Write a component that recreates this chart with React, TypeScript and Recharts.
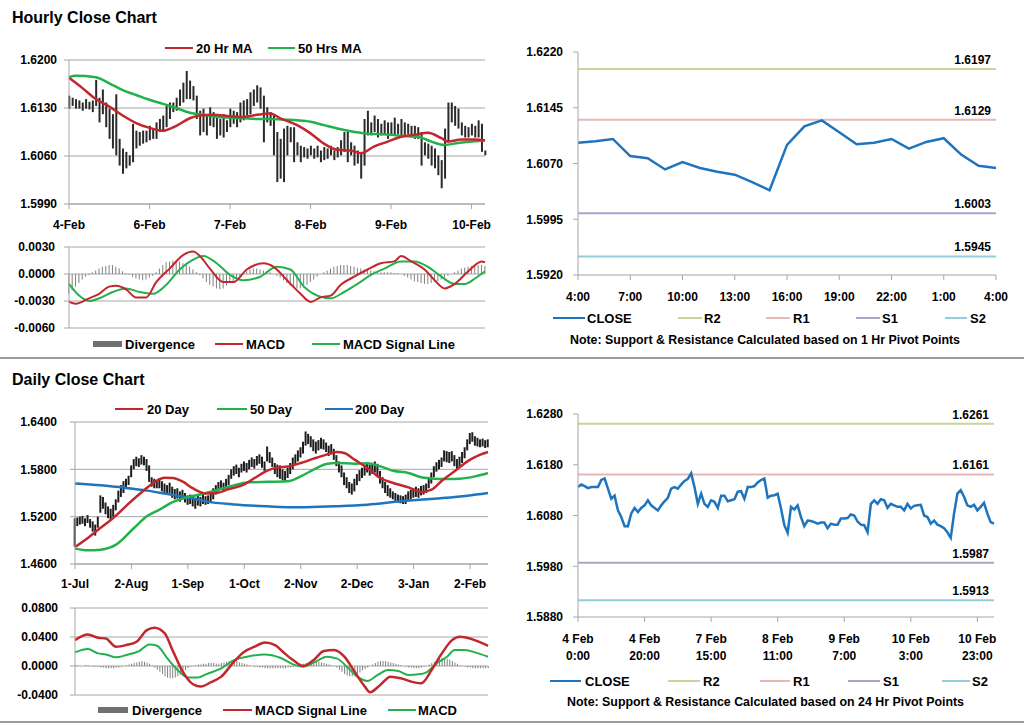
import React from 'react';
import { ComposedChart, LineChart, Line, Bar, XAxis, YAxis, CartesianGrid, ReferenceLine } from 'recharts';

const FONT = '"Liberation Sans", Arial, Helvetica, sans-serif';
const GRID = '#a6a6a6';
const RED = '#c1272d';
const GREEN = '#23b14d';
const BLUE = '#1f75bd';
const HIST = '#808080';
const R2C = '#c4d79b';
const R1C = '#e6b9b8';
const S1C = '#b3a2c7';
const S2C = '#93cddd';

// ---------------- Hourly close chart ----------------
const hourlyDates = ['4-Feb', '6-Feb', '7-Feb', '8-Feb', '9-Feb', '10-Feb'];
const hourlyDateIdx = [0, 24, 48, 72, 96, 120];

const hourlyHigh = [
  1.6148, 1.6145, 1.6143, 1.6141, 1.6138, 1.6143, 1.6139, 1.6141, 1.6171, 1.6145,
  1.6157, 1.6138, 1.6129, 1.6121, 1.615, 1.6085, 1.6071, 1.6066, 1.6061, 1.6107,
  1.6097, 1.6095, 1.6097, 1.6097, 1.6104, 1.61, 1.6109, 1.6114, 1.6119, 1.6133,
  1.6138, 1.6138, 1.6145, 1.6157, 1.6167, 1.6184, 1.617, 1.6162, 1.6148, 1.6126,
  1.6129, 1.6121, 1.6131, 1.6124, 1.6119, 1.6114, 1.6121, 1.6112, 1.6129, 1.6126,
  1.6124, 1.6138, 1.6141, 1.6143, 1.6153, 1.6157, 1.6163, 1.616, 1.6148, 1.6131,
  1.6124, 1.6119, 1.6095, 1.6085, 1.61, 1.6104, 1.6102, 1.6102, 1.608, 1.6075,
  1.6073, 1.6071, 1.6075, 1.6071, 1.6075, 1.6068, 1.6073, 1.6071, 1.6075, 1.6068,
  1.6073, 1.6083, 1.6095, 1.6095, 1.608, 1.6075, 1.6068, 1.6066, 1.6114, 1.6126,
  1.6109, 1.6119, 1.6114, 1.6107, 1.6112, 1.6109, 1.6109, 1.6116, 1.6107, 1.6114,
  1.6109, 1.6107, 1.6104, 1.6104, 1.6102, 1.6095, 1.608, 1.6078, 1.6075, 1.6071,
  1.6061, 1.6054, 1.61, 1.6138, 1.6138, 1.6133, 1.6129, 1.6109, 1.6104, 1.6102,
  1.6107, 1.6104, 1.6112, 1.6107, 1.6068,
];
const hourlyLow = [
  1.6129, 1.6133, 1.6129, 1.6129, 1.6126, 1.6129, 1.6128, 1.6124, 1.6133, 1.6109,
  1.6121, 1.6102, 1.6085, 1.6071, 1.6061, 1.6046, 1.6034, 1.6042, 1.6046, 1.6051,
  1.6071, 1.6075, 1.6078, 1.608, 1.6083, 1.6085, 1.6085, 1.6095, 1.6095, 1.6102,
  1.6114, 1.6124, 1.6126, 1.6133, 1.6138, 1.6143, 1.6143, 1.6141, 1.6114, 1.609,
  1.6095, 1.609, 1.6104, 1.6102, 1.6085, 1.609, 1.6087, 1.6095, 1.6102, 1.6107,
  1.6102, 1.6109, 1.6112, 1.6119, 1.6121, 1.6133, 1.6138, 1.6129, 1.608, 1.6109,
  1.6104, 1.6061, 1.6022, 1.6027, 1.6022, 1.6061, 1.608, 1.6051, 1.6061, 1.6051,
  1.6058, 1.6056, 1.6061, 1.6056, 1.6058, 1.6051, 1.6054, 1.6056, 1.6061, 1.6054,
  1.6058, 1.6061, 1.6066, 1.6051, 1.6061, 1.6046, 1.6049, 1.6027, 1.6046, 1.609,
  1.609, 1.6095, 1.6087, 1.609, 1.6092, 1.6085, 1.6092, 1.609, 1.6092, 1.6087,
  1.609, 1.6092, 1.6092, 1.6085, 1.6085, 1.6046, 1.6061, 1.6056, 1.6046, 1.6042,
  1.6032, 1.6013, 1.6027, 1.608, 1.6109, 1.6104, 1.61, 1.609, 1.6087, 1.6087,
  1.609, 1.6087, 1.6087, 1.6066, 1.6061,
];
const hourlyMA20: [number, number][] = [
  [0, 1.6174], [4, 1.6159], [8, 1.6143], [12, 1.6132], [16, 1.6119], [20, 1.6108], [24, 1.6101],
  [28, 1.6097], [32, 1.6104], [36, 1.6115], [39, 1.6119], [43, 1.6120], [48, 1.6118], [52, 1.6117],
  [56, 1.6120], [60, 1.6122], [63, 1.6115], [68, 1.6105], [72, 1.6093], [76, 1.6078], [80, 1.6069],
  [84, 1.6068], [87, 1.6064], [91, 1.6074], [95, 1.6081], [99, 1.6088], [103, 1.6091], [107, 1.6094],
  [111, 1.6086], [113, 1.6081], [117, 1.6084], [121, 1.6084], [124, 1.6083],
];
const hourlyMA50: [number, number][] = [
  [0, 1.6175], [2, 1.6177], [8, 1.6175], [12, 1.6166], [16, 1.6156], [20, 1.6149], [24, 1.6142],
  [28, 1.6136], [32, 1.6130], [36, 1.6123], [40, 1.6120], [44, 1.6117], [48, 1.6116], [52, 1.6115],
  [56, 1.6114], [60, 1.6114], [64, 1.6113], [68, 1.6112], [72, 1.6110], [76, 1.6105], [80, 1.6100],
  [84, 1.6096], [88, 1.6093], [92, 1.6092], [96, 1.6091], [100, 1.6089], [104, 1.6088], [108, 1.6081],
  [112, 1.6076], [116, 1.6079], [120, 1.6081], [124, 1.6083],
];
const hourlyMACD: [number, number][] = [
  [0, -0.0031], [2, -0.0033], [6, -0.0027], [9, -0.0022], [12, -0.0014], [14, -0.0013], [17, -0.0017],
  [20, -0.0026], [23, -0.0026], [26, -0.0009], [30, 0.0006], [34, 0.0021], [37, 0.0025], [39, 0.002],
  [42, 0.0006], [46, -0.0009], [49, -0.0009], [53, 0.0005], [58, 0.0012], [61, 0.0008], [65, -0.0007],
  [69, -0.0022], [72, -0.0031], [75, -0.0026], [78, -0.0024], [81, -0.0012], [85, -0.0003], [89, 0.0005],
  [93, 0.0012], [97, 0.0014], [99, 0.002], [102, 0.0014], [106, 0.0005], [109, -0.0007], [112, -0.0016],
  [115, -0.0011], [119, 0.0003], [123, 0.0014], [124, 0.0013],
];
const hourlySignal: [number, number][] = [
  [0, -0.0011], [3, -0.0024], [6, -0.003], [9, -0.0027], [13, -0.002], [17, -0.0016], [21, -0.002],
  [25, -0.0022], [29, -0.0012], [33, 0.0005], [37, 0.0016], [40, 0.002], [44, 0.0012], [48, -0.0001],
  [52, -0.0007], [57, -0.0003], [62, 0.0008], [66, 0.0005], [70, -0.0014], [74, -0.0024], [78, -0.0027],
  [82, -0.002], [86, -0.0011], [90, -0.0001], [94, 0.0006], [99, 0.0014], [103, 0.0014], [107, 0.0008],
  [111, -0.0003], [115, -0.0011], [118, -0.0011], [121, -0.0005], [124, 0.0003],
];
const hourlyDivergence = [
  -0.0022, -0.0018, -0.0014, -0.001, -0.0006, -0.0003, -0.0001, 0.0002, 0.0004, 0.0006,
  0.0008, 0.0009, 0.001, 0.001, 0.0008, 0.0006, 0.0003, 0.0001, -0.0001, -0.0003,
  -0.0005, -0.0006, -0.0007, -0.0006, -0.0004, -0.0002, 0.0002, 0.0006, 0.001, 0.0013,
  0.0014, 0.0015, 0.0015, 0.0014, 0.0012, 0.001, 0.0008, 0.0005, 0.0002, -0.0001,
  -0.0005, -0.0009, -0.0012, -0.0014, -0.0016, -0.0017, -0.0016, -0.0013, -0.001, -0.0008,
  -0.0005, -0.0002, 0.0001, 0.0003, 0.0005, 0.0006, 0.0006, 0.0005, 0.0004, 0.0003,
  0.0002, 0.0, -0.0002, -0.0004, -0.0007, -0.001, -0.0013, -0.0015, -0.0016, -0.0016,
  -0.0015, -0.0012, -0.0009, -0.0006, -0.0003, 0.0, 0.0002, 0.0004, 0.0006, 0.0008,
  0.0009, 0.001, 0.001, 0.001, 0.0009, 0.0008, 0.0007, 0.0006, 0.0005, 0.0004,
  0.0004, 0.0003, 0.0003, 0.0002, 0.0002, 0.0002, 0.0002, 0.0001, 0.0001, 0.0,
  -0.0002, -0.0004, -0.0006, -0.0008, -0.0009, -0.001, -0.0011, -0.0011, -0.001, -0.0009,
  -0.0008, -0.0006, -0.0004, -0.0002, 0.0, 0.0002, 0.0004, 0.0006, 0.0007, 0.0008,
  0.0009, 0.001, 0.001, 0.001, 0.0009,
];

// ---------------- Hourly pivot chart ----------------
const hourLabels = ['4:00', '5:00', '6:00', '7:00', '8:00', '9:00', '10:00', '11:00', '12:00', '13:00', '14:00', '15:00',
  '16:00', '17:00', '18:00', '19:00', '20:00', '21:00', '22:00', '23:00', '0:00', '1:00', '2:00', '3:00', '4:00'];
const hourlyClose = [1.6098, 1.61, 1.6103, 1.608, 1.6077, 1.6062, 1.6072, 1.6064, 1.6059, 1.6055, 1.6045, 1.6034,
  1.6095, 1.612, 1.6128, 1.6112, 1.6096, 1.6098, 1.6103, 1.609, 1.6099, 1.6104, 1.6082, 1.6067, 1.6064];
const hourlyPivots = { R2: 1.6197, R1: 1.6129, S1: 1.6003, S2: 1.5945 };

// ---------------- Daily close chart ----------------
const dailyMonths = ['1-Jul', '2-Aug', '1-Sep', '1-Oct', '2-Nov', '2-Dec', '3-Jan', '2-Feb'];
const dailyMonthIdx = [0, 22, 44, 66, 88, 110, 132, 154];
const dailyHigh = [
  1.518, 1.519, 1.52, 1.521, 1.518, 1.522, 1.517, 1.514, 1.51, 1.52,
  1.547, 1.545, 1.538, 1.533, 1.53, 1.535, 1.542, 1.553, 1.56, 1.565,
  1.568, 1.572, 1.585, 1.593, 1.596, 1.594, 1.598, 1.596, 1.593, 1.585,
  1.57, 1.568, 1.566, 1.569, 1.565, 1.562, 1.56, 1.563, 1.558, 1.555,
  1.556, 1.552, 1.554, 1.55, 1.547, 1.548, 1.546, 1.544, 1.547, 1.545,
  1.548, 1.546, 1.547, 1.55, 1.556, 1.56, 1.564, 1.566, 1.563, 1.568,
  1.573, 1.58, 1.584, 1.586, 1.582, 1.587, 1.59, 1.588, 1.592, 1.595,
  1.593, 1.597, 1.599, 1.596, 1.59, 1.609, 1.602, 1.595, 1.588, 1.586,
  1.585, 1.58, 1.578, 1.582, 1.588, 1.595, 1.599, 1.604, 1.608, 1.615,
  1.628, 1.625, 1.622, 1.618, 1.615, 1.617, 1.62, 1.618, 1.614, 1.61,
  1.612, 1.606, 1.598, 1.59, 1.585, 1.576, 1.57, 1.564, 1.562, 1.568,
  1.574, 1.579, 1.582, 1.586, 1.588, 1.586, 1.588, 1.59, 1.587, 1.578,
  1.57, 1.564, 1.56, 1.556, 1.552, 1.55, 1.548, 1.547, 1.546, 1.548,
  1.552, 1.554, 1.556, 1.558, 1.556, 1.559, 1.56, 1.562, 1.568, 1.576,
  1.584, 1.589, 1.592, 1.595, 1.604, 1.603, 1.602, 1.603, 1.598, 1.593,
  1.596, 1.602, 1.608, 1.618, 1.626, 1.627, 1.622, 1.62, 1.618, 1.619, 1.617, 1.618,
];
const dailyLow = [
  1.482, 1.508, 1.51, 1.511, 1.508, 1.512, 1.506, 1.501, 1.496, 1.506,
  1.525, 1.53, 1.523, 1.518, 1.516, 1.52, 1.528, 1.538, 1.545, 1.55,
  1.555, 1.56, 1.57, 1.58, 1.584, 1.583, 1.586, 1.585, 1.578, 1.564,
  1.558, 1.556, 1.556, 1.556, 1.552, 1.55, 1.549, 1.55, 1.544, 1.542,
  1.543, 1.539, 1.542, 1.538, 1.535, 1.536, 1.533, 1.53, 1.534, 1.533,
  1.536, 1.535, 1.536, 1.538, 1.542, 1.548, 1.552, 1.554, 1.553, 1.556,
  1.56, 1.568, 1.572, 1.574, 1.57, 1.576, 1.578, 1.576, 1.58, 1.583,
  1.581, 1.585, 1.587, 1.582, 1.578, 1.59, 1.588, 1.583, 1.574, 1.57,
  1.568, 1.566, 1.565, 1.569, 1.574, 1.58, 1.586, 1.59, 1.595, 1.6,
  1.61, 1.612, 1.608, 1.603, 1.6, 1.604, 1.606, 1.605, 1.602, 1.597,
  1.599, 1.592, 1.584, 1.576, 1.57, 1.56, 1.556, 1.55, 1.548, 1.552,
  1.56, 1.565, 1.569, 1.572, 1.576, 1.572, 1.574, 1.576, 1.572, 1.562,
  1.556, 1.55, 1.546, 1.544, 1.542, 1.54, 1.538, 1.537, 1.536, 1.536,
  1.54, 1.542, 1.544, 1.545, 1.544, 1.547, 1.548, 1.55, 1.556, 1.562,
  1.57, 1.577, 1.58, 1.583, 1.59, 1.589, 1.588, 1.59, 1.584, 1.58,
  1.582, 1.588, 1.594, 1.604, 1.612, 1.615, 1.61, 1.609, 1.608, 1.609, 1.607, 1.608,
];
const daily20: [number, number][] = [
  [0, 1.4815], [5, 1.493], [10, 1.506], [15, 1.5185], [21, 1.5368], [27, 1.5537], [31, 1.564], [35, 1.5694],
  [38, 1.569], [42, 1.5643], [46, 1.5558], [51, 1.5495], [55, 1.55], [60, 1.555], [66, 1.561], [70, 1.569],
  [75, 1.5783], [79, 1.5825], [83, 1.5835], [88, 1.588], [93, 1.5935], [98, 1.5986], [102, 1.602], [105, 1.6007],
  [109, 1.5923], [114, 1.5817], [119, 1.569], [124, 1.5627], [130, 1.5572], [135, 1.5513], [139, 1.5542],
  [143, 1.5656], [148, 1.5775], [153, 1.5901], [158, 1.5986], [161, 1.602],
];
const daily50: [number, number][] = [
  [0, 1.4795], [5, 1.4773], [10, 1.4782], [16, 1.4845], [23, 1.5056], [28, 1.5204], [33, 1.529], [38, 1.5383],
  [44, 1.5448], [50, 1.549], [56, 1.5545], [62, 1.5597], [67, 1.5632], [75, 1.5642], [83, 1.5648], [88, 1.5711],
  [93, 1.5796], [98, 1.5868], [102, 1.588], [109, 1.5872], [114, 1.5876], [119, 1.5838], [124, 1.5783],
  [130, 1.5754], [135, 1.5699], [140, 1.5682], [145, 1.5678], [150, 1.5682], [156, 1.5711], [161, 1.5754],
];
const daily200: [number, number][] = [
  [0, 1.562], [10, 1.5597], [20, 1.5563], [28, 1.553], [36, 1.5487], [44, 1.5445], [51, 1.5394], [62, 1.5355],
  [75, 1.5331], [88, 1.5318], [101, 1.5331], [114, 1.5352], [127, 1.5394], [140, 1.5428], [153, 1.5466], [161, 1.55],
];
const dailySignal: [number, number][] = [
  [0, 0.0357], [5, 0.0435], [9, 0.0389], [12, 0.038], [16, 0.0266], [20, 0.0289], [24, 0.0334], [28, 0.0495],
  [31, 0.0527], [35, 0.0449], [38, 0.022], [42, -0.0078], [46, -0.0252], [49, -0.0284], [53, -0.0224],
  [57, -0.0147], [62, 0.006], [66, 0.0197], [70, 0.0266], [74, 0.0325], [78, 0.0289], [81, 0.0197], [85, 0.0082],
  [89, 0.0], [93, 0.0082], [97, 0.0206], [101, 0.022], [105, 0.0128], [109, -0.0078], [113, -0.0284],
  [115, -0.0362], [119, -0.0261], [123, -0.0147], [127, -0.0169], [131, -0.0215], [135, -0.0238],
  [139, -0.0055], [143, 0.0174], [147, 0.0357], [150, 0.0403], [154, 0.038], [158, 0.0325], [161, 0.0279],
];
const dailyMACD: [number, number][] = [
  [0, 0.0188], [5, 0.0234], [9, 0.0174], [12, 0.016], [16, 0.0119], [20, 0.0151], [25, 0.0206], [29, 0.0298],
  [32, 0.0279], [36, 0.0105], [40, -0.0055], [44, -0.016], [48, -0.016], [51, -0.0115], [57, -0.0032],
  [62, 0.0082], [67, 0.0128], [74, 0.016], [80, 0.0114], [85, 0.0023], [89, -0.0009], [95, 0.0082], [98, 0.0128],
  [102, 0.0105], [106, -0.0009], [110, -0.0147], [114, -0.0206], [118, -0.0124], [122, -0.0055], [126, -0.0069],
  [130, -0.0124], [134, -0.0115], [137, -0.0087], [141, 0.0037], [145, 0.0128], [148, 0.022], [152, 0.022],
  [156, 0.0188], [161, 0.0128],
];
const dailyDivergence = [
  0.001, 0.001, 0, 0, 0.001, 0.001, 0, -0.001, -0.001, -0.001,
  -0.002, -0.002, -0.003, -0.003, -0.003, -0.003, -0.002, -0.002, -0.001, 0,
  0.001, 0.002, 0.003, 0.004, 0.005, 0.006, 0.007, 0.006, 0.005, 0.003,
  0.001, -0.002, -0.005, -0.008, -0.011, -0.014, -0.016, -0.017, -0.017, -0.016,
  -0.014, -0.012, -0.009, -0.006, -0.003, -0.001, 0, 0.001, 0.002, 0.002,
  0.003, 0.003, 0.004, 0.004, 0.004, 0.003, 0.003, 0.004, 0.005, 0.006,
  0.007, 0.008, 0.008, 0.007, 0.005, 0.004, 0.003, 0.002, 0.001, 0,
  -0.001, -0.001, -0.002, -0.002, -0.003, -0.003, -0.003, -0.003, -0.003, -0.003,
  -0.003, -0.003, -0.003, -0.002, -0.002, -0.001, 0, 0.001, 0.002, 0.003,
  0.004, 0.005, 0.006, 0.007, 0.007, 0.006, 0.005, 0.004, 0.003, 0.002,
  0.001, 0, -0.002, -0.005, -0.008, -0.011, -0.013, -0.014, -0.014, -0.013,
  -0.011, -0.009, -0.006, -0.004, -0.002, 0, 0.002, 0.004, 0.006, 0.007,
  0.007, 0.007, 0.006, 0.005, 0.004, 0.003, 0.002, 0.001, 0, -0.001,
  -0.002, -0.002, -0.003, -0.003, -0.003, -0.002, -0.001, 0, 0.002, 0.004,
  0.006, 0.008, 0.01, 0.011, 0.011, 0.01, 0.009, 0.007, 0.005, 0.003,
  0.001, 0, -0.001, -0.002, -0.002, -0.003, -0.003, -0.003, -0.003, -0.003, -0.003, -0.003,
];

// ---------------- Daily pivot chart ----------------
const pivotTickIdx = [0, 20, 40, 60, 80, 100, 120];
const pivotTickDay = ['4 Feb', '4 Feb', '7 Feb', '8 Feb', '9 Feb', '10 Feb', '10 Feb'];
const pivotTickTime = ['0:00', '20:00', '15:00', '11:00', '7:00', '3:00', '23:00'];
const dailyPivotClose = [
  1.6136, 1.6141, 1.6138, 1.6134, 1.6136, 1.6136, 1.6136, 1.615, 1.6153, 1.6133,
  1.6113, 1.6119, 1.609, 1.6077, 1.6059, 1.6059, 1.6084, 1.6095, 1.6087, 1.6095,
  1.61, 1.611, 1.61, 1.6095, 1.609, 1.61, 1.6108, 1.6115, 1.6133, 1.6136,
  1.6133, 1.6141, 1.6148, 1.6152, 1.6163, 1.6136, 1.6103, 1.6123, 1.6103, 1.6097,
  1.611, 1.6107, 1.6095, 1.6119, 1.6119, 1.6108, 1.611, 1.6112, 1.6127, 1.6128,
  1.6113, 1.6136, 1.6136, 1.6138, 1.6145, 1.615, 1.6153, 1.6115, 1.6119, 1.612,
  1.6123, 1.6094, 1.6061, 1.6046, 1.6097, 1.6092, 1.61, 1.6077, 1.6059, 1.607,
  1.6069, 1.6067, 1.6064, 1.6066, 1.6066, 1.6055, 1.6064, 1.6062, 1.6062, 1.6074,
  1.6074, 1.6075, 1.6082, 1.608, 1.6068, 1.6062, 1.6061, 1.6047, 1.6103, 1.611,
  1.6103, 1.6112, 1.611, 1.6095, 1.6103, 1.61, 1.6097, 1.6097, 1.609, 1.6103,
  1.6094, 1.6099, 1.61, 1.6101, 1.608, 1.6077, 1.6064, 1.607, 1.6062, 1.6059,
  1.6055, 1.6047, 1.6036, 1.6084, 1.6123, 1.613, 1.6117, 1.61, 1.6097, 1.6101,
  1.609, 1.6097, 1.6105, 1.6084, 1.6067, 1.6064,
];
const dailyPivots = { R2: 1.6261, R1: 1.6161, S1: 1.5987, S2: 1.5913 };

// ---------------- tables ----------------
const hm20 = new Map(hourlyMA20);
const hm50 = new Map(hourlyMA50);
const hmacd = new Map(hourlyMACD);
const hsig = new Map(hourlySignal);
const hourlyTable = hourlyHigh.map((h, i) => ({
  i,
  range: [hourlyLow[i], h],
  ma20: hm20.has(i) ? hm20.get(i) : null,
  ma50: hm50.has(i) ? hm50.get(i) : null,
}));
const hourlyMacdTable = hourlyDivergence.map((d, i) => ({
  i,
  div: d,
  macd: hmacd.has(i) ? hmacd.get(i) : null,
  signal: hsig.has(i) ? hsig.get(i) : null,
}));
const hourlyPivotTable = hourlyClose.map((c, i) => ({ i, close: c }));

const d20 = new Map(daily20);
const d50 = new Map(daily50);
const d200 = new Map(daily200);
const dmacd = new Map(dailyMACD);
const dsig = new Map(dailySignal);
const dailyTable = dailyHigh.map((h, i) => ({
  i,
  range: [dailyLow[i], h],
  ma20: d20.has(i) ? d20.get(i) : null,
  ma50: d50.has(i) ? d50.get(i) : null,
  ma200: d200.has(i) ? d200.get(i) : null,
}));
const dailyMacdTable = dailyDivergence.map((d, i) => ({
  i,
  div: d,
  macd: dmacd.has(i) ? dmacd.get(i) : null,
  signal: dsig.has(i) ? dsig.get(i) : null,
}));
const dailyPivotTable = dailyPivotClose.map((c, i) => ({ i, close: c }));

const tick = { fill: '#000', fontSize: 12, fontWeight: 700, fontFamily: FONT };
const f4 = (v: number) => v.toFixed(4);

const refLabel = (v: number) => ({
  value: v.toFixed(4),
  position: 'insideBottomRight' as const,
  offset: 5,
  fill: '#000',
  fontSize: 12,
  fontWeight: 700,
  fontFamily: FONT,
});

const PivotTick = (props: any) => {
  const { x, y, payload } = props;
  const k = pivotTickIdx.indexOf(payload.value);
  return (
    <text x={x} y={y} textAnchor="middle" fill="#000" fontSize={12} fontWeight={700} fontFamily={FONT}>
      <tspan x={x} dy="0.71em">{pivotTickDay[k]}</tspan>
      <tspan x={x} dy="17">{pivotTickTime[k]}</tspan>
    </text>
  );
};

const abs = (left: number, top: number): React.CSSProperties => ({ position: 'absolute', left, top });

type LegendKind = 'line' | 'box';
const LegendItem = ({ x1, x2, y, color, label, tx, kind = 'line', w = 2 }: {
  x1: number; x2: number; y: number; color: string; label: string; tx: number; kind?: LegendKind; w?: number;
}) => (
  <g>
    {kind === 'line' ? (
      <line x1={x1} x2={x2} y1={y} y2={y} stroke={color} strokeWidth={w} />
    ) : (
      <rect x={x1} y={y - 3} width={x2 - x1} height={6} fill={color} />
    )}
    <text x={tx} y={y} dominantBaseline="central" fontSize={13} fontWeight={700} fontFamily={FONT} fill="#000">
      {label}
    </text>
  </g>
);

export default function App() {
  return (
    <div style={{ position: 'absolute', left: 0, top: 0, width: 1024, height: 724, background: '#fff', overflow: 'hidden' }}>
      {/* Hourly price chart */}
      <div style={abs(0, 0)}>
        <ComposedChart width={500} height={240} data={hourlyTable} margin={{ top: 60, right: 15, bottom: 6, left: 0 }}>
          <CartesianGrid vertical={false} stroke={GRID} />
          <XAxis dataKey="i" type="number" domain={[0, 124]} ticks={hourlyDateIdx} interval={0}
            tickFormatter={(v: number) => hourlyDates[hourlyDateIdx.indexOf(v)]}
            height={30} tickSize={5} tickMargin={11} stroke={GRID} tick={tick} />
          <YAxis type="number" domain={[1.599, 1.62]} ticks={[1.599, 1.606, 1.613, 1.62]} interval={0}
            tickFormatter={f4} width={69} tickSize={5} tickMargin={7} stroke={GRID} tick={tick} />
          <Bar dataKey="range" fill="#2a2a2a" barSize={2} isAnimationActive={false} />
          <Line dataKey="ma50" type="monotone" stroke={GREEN} strokeWidth={2.5} dot={false} connectNulls isAnimationActive={false} />
          <Line dataKey="ma20" type="monotone" stroke={RED} strokeWidth={2.5} dot={false} connectNulls isAnimationActive={false} />
        </ComposedChart>
      </div>

      {/* Hourly MACD */}
      <div style={abs(0, 240)}>
        <ComposedChart width={500} height={106} data={hourlyMacdTable} margin={{ top: 7, right: 15, bottom: 18, left: 0 }}>
          <CartesianGrid vertical={false} stroke={GRID} />
          <XAxis dataKey="i" type="number" domain={[0, 124]} hide />
          <YAxis type="number" domain={[-0.006, 0.003]} ticks={[-0.006, -0.003, 0, 0.003]} interval={0}
            tickFormatter={f4} width={69} tickSize={5} tickMargin={9} stroke={GRID} tick={tick} />
          <Bar dataKey="div" fill={HIST} barSize={1} isAnimationActive={false} />
          <Line dataKey="signal" type="monotone" stroke={GREEN} strokeWidth={2} dot={false} connectNulls isAnimationActive={false} />
          <Line dataKey="macd" type="monotone" stroke={RED} strokeWidth={2} dot={false} connectNulls isAnimationActive={false} />
        </ComposedChart>
      </div>

      {/* Hourly pivot chart */}
      <div style={abs(500, 0)}>
        <LineChart width={524} height={320} data={hourlyPivotTable} margin={{ top: 52, right: 28, bottom: 15, left: 0 }}>
          <XAxis dataKey="i" type="number" domain={[0, 24]} ticks={[0, 3, 6, 9, 12, 15, 18, 21, 24]} interval={0}
            tickFormatter={(v: number) => hourLabels[v]}
            height={30} tickSize={5} tickMargin={12} stroke={GRID} tick={tick} />
          <YAxis type="number" domain={[1.592, 1.622]} ticks={[1.592, 1.5995, 1.607, 1.6145, 1.622]} interval={0}
            tickFormatter={f4} width={78} tickSize={5} tickMargin={10} stroke={GRID} tick={tick} />
          <ReferenceLine y={hourlyPivots.R2} stroke={R2C} strokeWidth={2} label={refLabel(hourlyPivots.R2)} />
          <ReferenceLine y={hourlyPivots.R1} stroke={R1C} strokeWidth={2} label={refLabel(hourlyPivots.R1)} />
          <ReferenceLine y={hourlyPivots.S1} stroke={S1C} strokeWidth={2} label={refLabel(hourlyPivots.S1)} />
          <ReferenceLine y={hourlyPivots.S2} stroke={S2C} strokeWidth={2} label={refLabel(hourlyPivots.S2)} />
          <Line dataKey="close" type="linear" stroke={BLUE} strokeWidth={2.5} dot={false} isAnimationActive={false} />
        </LineChart>
      </div>

      {/* Daily price chart */}
      <div style={abs(0, 360)}>
        <ComposedChart width={500} height={240} data={dailyTable} margin={{ top: 62, right: 12, bottom: 6, left: 0 }}>
          <CartesianGrid vertical={false} stroke={GRID} />
          <XAxis dataKey="i" type="number" domain={[0, 161]} ticks={dailyMonthIdx} interval={0}
            tickFormatter={(v: number) => dailyMonths[dailyMonthIdx.indexOf(v)]}
            height={30} tickSize={5} tickMargin={10} stroke={GRID} tick={tick} />
          <YAxis type="number" domain={[1.46, 1.64]} ticks={[1.46, 1.52, 1.58, 1.64]} interval={0}
            tickFormatter={f4} width={75} tickSize={5} tickMargin={13} stroke={GRID} tick={tick} />
          <Bar dataKey="range" fill="#1e1e1e" barSize={2} isAnimationActive={false} />
          <Line dataKey="ma200" type="monotone" stroke={BLUE} strokeWidth={2.5} dot={false} connectNulls isAnimationActive={false} />
          <Line dataKey="ma50" type="monotone" stroke={GREEN} strokeWidth={2.5} dot={false} connectNulls isAnimationActive={false} />
          <Line dataKey="ma20" type="monotone" stroke={RED} strokeWidth={2.5} dot={false} connectNulls isAnimationActive={false} />
        </ComposedChart>
      </div>

      {/* Daily MACD */}
      <div style={abs(0, 600)}>
        <ComposedChart width={500} height={112} data={dailyMacdTable} margin={{ top: 8, right: 12, bottom: 17, left: 0 }}>
          <CartesianGrid vertical={false} stroke={GRID} />
          <XAxis dataKey="i" type="number" domain={[0, 161]} hide />
          <YAxis type="number" domain={[-0.04, 0.08]} ticks={[-0.04, 0, 0.04, 0.08]} interval={0}
            tickFormatter={f4} width={75} tickSize={5} tickMargin={12} stroke={GRID} tick={tick} />
          <Bar dataKey="div" fill={HIST} barSize={1} isAnimationActive={false} />
          <Line dataKey="macd" type="monotone" stroke={GREEN} strokeWidth={2} dot={false} connectNulls isAnimationActive={false} />
          <Line dataKey="signal" type="monotone" stroke={RED} strokeWidth={2.5} dot={false} connectNulls isAnimationActive={false} />
        </ComposedChart>
      </div>

      {/* Daily pivot chart */}
      <div style={abs(500, 360)}>
        <LineChart width={524} height={310} data={dailyPivotTable} margin={{ top: 54, right: 30, bottom: 8, left: 0 }}>
          <XAxis dataKey="i" type="number" domain={[0, 125]} ticks={pivotTickIdx} interval={0}
            height={45} tickSize={5} tickMargin={12} stroke={GRID} tick={<PivotTick />} />
          <YAxis type="number" domain={[1.588, 1.628]} ticks={[1.588, 1.598, 1.608, 1.618, 1.628]} interval={0}
            tickFormatter={f4} width={78} tickSize={5} tickMargin={10} stroke={GRID} tick={tick} />
          <ReferenceLine y={dailyPivots.R2} stroke={R2C} strokeWidth={2} label={refLabel(dailyPivots.R2)} />
          <ReferenceLine y={dailyPivots.R1} stroke={R1C} strokeWidth={2} label={refLabel(dailyPivots.R1)} />
          <ReferenceLine y={dailyPivots.S1} stroke={S1C} strokeWidth={2} label={refLabel(dailyPivots.S1)} />
          <ReferenceLine y={dailyPivots.S2} stroke={S2C} strokeWidth={2} label={refLabel(dailyPivots.S2)} />
          <Line dataKey="close" type="linear" stroke={BLUE} strokeWidth={2.5} dot={false} isAnimationActive={false} />
        </LineChart>
      </div>

      {/* Titles, legends, notes, separators */}
      <svg width={1024} height={724} style={{ position: 'absolute', left: 0, top: 0, pointerEvents: 'none' }}>
        <text x={12} y={17} dominantBaseline="central" fontSize={16} fontWeight={700} fontFamily={FONT} fill="#000">Hourly Close Chart</text>
        <text x={12} y={379} dominantBaseline="central" fontSize={16} fontWeight={700} fontFamily={FONT} fill="#000">Daily Close Chart</text>

        <LegendItem x1={165} x2={193} y={48} color={RED} label="20 Hr MA" tx={196} />
        <LegendItem x1={268} x2={295} y={48} color={GREEN} label="50 Hrs MA" tx={298} />

        <LegendItem x1={93} x2={122} y={344} color="#707070" label="Divergence" tx={125} kind="box" />
        <LegendItem x1={215} x2={243} y={344} color={RED} label="MACD" tx={246} />
        <LegendItem x1={312} x2={340} y={344} color={GREEN} label="MACD Signal Line" tx={343} />

        <LegendItem x1={553} x2={585} y={318} color={BLUE} label="CLOSE" tx={587} />
        <LegendItem x1={678} x2={702} y={318} color={R2C} label="R2" tx={704} />
        <LegendItem x1={766} x2={790} y={318} color={R1C} label="R1" tx={793} />
        <LegendItem x1={856} x2={880} y={318} color={S1C} label="S1" tx={882} />
        <LegendItem x1={945} x2={967} y={318} color={S2C} label="S2" tx={970} />
        <text x={570} y={340} dominantBaseline="central" fontSize={12} fontWeight={700} fontFamily={FONT} fill="#000"
          textLength={390} lengthAdjust="spacingAndGlyphs">Note: Support &amp; Resistance Calculated based on 1 Hr Pivot Points</text>

        <LegendItem x1={115} x2={143} y={409} color={RED} label="20 Day" tx={147} />
        <LegendItem x1={217} x2={247} y={409} color={GREEN} label="50 Day" tx={250} />
        <LegendItem x1={325} x2={353} y={409} color={BLUE} label="200 Day" tx={355} />

        <LegendItem x1={98} x2={128} y={710} color="#707070" label="Divergence" tx={132} kind="box" />
        <LegendItem x1={223} x2={252} y={710} color={RED} label="MACD Signal Line" tx={255} />
        <LegendItem x1={388} x2={416} y={710} color={GREEN} label="MACD" tx={418} />

        <LegendItem x1={550} x2={581} y={681} color={BLUE} label="CLOSE" tx={585} />
        <LegendItem x1={668} x2={700} y={681} color={R2C} label="R2" tx={703} />
        <LegendItem x1={760} x2={790} y={681} color={R1C} label="R1" tx={793} />
        <LegendItem x1={848} x2={880} y={681} color={S1C} label="S1" tx={883} />
        <LegendItem x1={942} x2={970} y={681} color={S2C} label="S2" tx={972} />
        <text x={567} y={702} dominantBaseline="central" fontSize={12} fontWeight={700} fontFamily={FONT} fill="#000"
          textLength={397} lengthAdjust="spacingAndGlyphs">Note: Support &amp; Resistance Calculated based on 24 Hr Pivot Points</text>

        <line x1={0} x2={1024} y1={358} y2={358} stroke="#9a9a9a" strokeWidth={2} />
        <line x1={0} x2={1024} y1={722} y2={722} stroke="#9a9a9a" strokeWidth={2} />
      </svg>
    </div>
  );
}
